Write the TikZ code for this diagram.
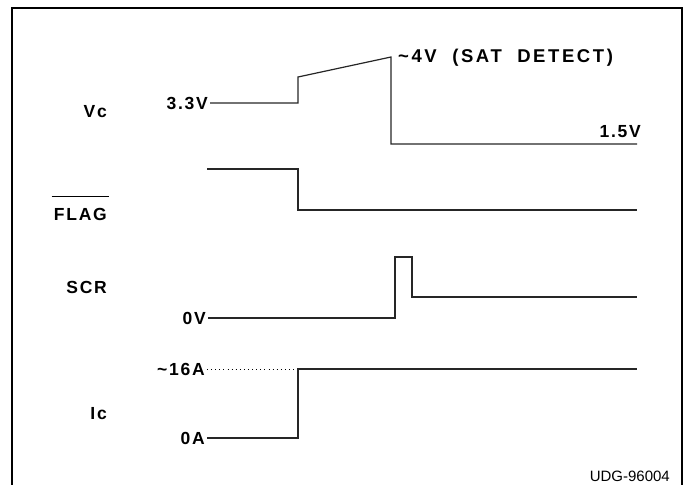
\documentclass[tikz,border=0pt]{standalone}
\usepackage{fontspec}
\setmainfont{Liberation Sans}
\tikzset{
  sig/.style={line width=1.2pt,black!85},
  lbl/.style={font=\bfseries\fontsize{17.5}{20}\selectfont\addfontfeature{LetterSpace=10},inner sep=2pt},
  note/.style={font=\fontsize{15}{17}\selectfont,inner sep=0pt},
}

\begin{document}
\begin{tikzpicture}[x=1pt,y=-1pt]
  \useasboundingbox (0,0) rectangle (689,485);
  % frame
  \draw[line width=2.2pt] (12,486) -- (12,8) -- (682,8) -- (682,486);
  % Vc
  \node[lbl,anchor=east] (vc) at (109,112) {Vc};
  \node[lbl,anchor=east] (v33) at (210,103) {3.3V};
  \coordinate (vsat) at (391,57);
  \coordinate (vend) at (637,144);
  \draw[sig] (v33.east) -| (298,77) -- (vsat) |- (vend);
  \node[lbl,anchor=west,font=\bfseries\fontsize{18.5}{20}\selectfont\addfontfeature{LetterSpace=14}] (sat) at (396,58) {\textasciitilde4V\ \ (SAT\ \ DETECT)};
  \node[lbl,anchor=south east] (v15) at (643,140) {1.5V};
  % FLAG
  \node[lbl,anchor=east] (flag) at (109,214) {FLAG};
  \draw[line width=0.7pt] ([yshift=9pt]flag.north west) -- ([yshift=9pt]flag.north east);
  \coordinate (fhi) at (207,169);
  \draw[sig] (fhi) -| (298,210) -- (637,210);
  % SCR
  \node[lbl,anchor=east] (scr) at (109,287) {SCR};
  \node[lbl,anchor=east] (s0) at (208,318) {0V};
  \draw[sig] (s0.east) -| (395,257) -| (412,297) -- (637,297);
  % Ic
  \node[lbl,anchor=east] (ic) at (109,414) {Ic};
  \node[lbl,anchor=east] (i16) at (207,369) {\textasciitilde16A};
  \node[lbl,anchor=east] (i0) at (207,438) {0A};
  \coordinate (istep) at (298,369);
  \draw[line width=0.9pt,dash pattern=on 0.9pt off 3.2pt] (i16.east) -- (istep);
  \draw[sig] (i0.east) -| (istep) -- (637,369);
  % figure number
  \node[note,anchor=base east] (udg) at (670,481) {UDG-96004};
\end{tikzpicture}
\end{document}
